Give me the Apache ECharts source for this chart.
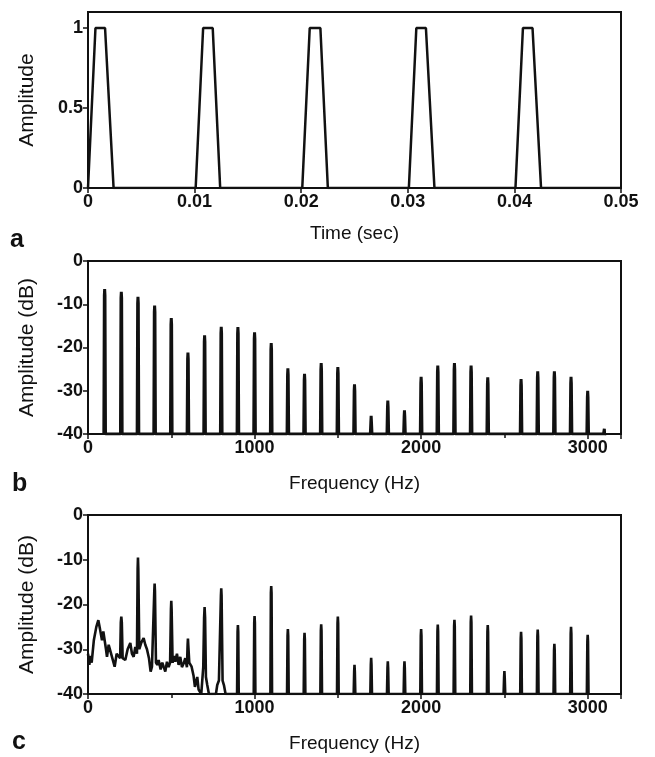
<!DOCTYPE html>
<html>
<head>
<meta charset="utf-8">
<script src="https://cdn.jsdelivr.net/npm/echarts@6/dist/echarts.min.js"></script>
<style>
  html, body { margin: 0; padding: 0; background: #fff; }
  #chart { width: 655px; height: 757px; }
</style>
</head>
<body>
<div id="chart"></div>
<script type="text/javascript">
    // panel a : pulse train (time in sec, amplitude)
    var pulseT = [0, 0.0007, 0.0016, 0.0024,
                  0.0101, 0.0108, 0.0117, 0.0124,
                  0.0201, 0.0208, 0.0218, 0.0225,
                  0.0301, 0.0308, 0.0317, 0.0325,
                  0.0401, 0.0408, 0.0417, 0.0425, 0.05];
    var pulseA = [0, 1, 1, 0,
                  0, 1, 1, 0,
                  0, 1, 1, 0,
                  0, 1, 1, 0,
                  0, 1, 1, 0, 0];

    // panel b : harmonic line spectrum (Hz, dB)
    var freqsB = [100, 200, 300, 400, 500, 600, 700, 800, 900, 1000, 1100, 1200, 1300, 1400, 1500, 1600,
                  1700, 1800, 1900, 2000, 2100, 2200, 2300, 2400, 2600, 2700, 2800, 2900, 3000, 3100];
    var peaksB = [-6.5, -7.1, -8.3, -10.3, -13.2, -21.2, -17.2, -15.2, -15.3, -16.5, -19, -24.8, -26.1, -23.6, -24.5, -28.5,
                  -35.8, -32.3, -34.5, -26.8, -24.2, -23.6, -24.2, -26.9, -27.3, -25.5, -25.5, -26.8, -30, -38.8];

    // panel c : noisy low part of spectrum (Hz, dB), then harmonics
    var floorC = [
        [0, -31], [8, -33.5], [14, -31.5], [22, -33], [35, -28], [50, -25], [62, -23.5], [72, -25.5],
        [84, -28], [92, -26], [100, -25.7], [108, -30], [114, -31.7], [124, -29], [134, -29.4], [146, -32],
        [160, -33.9], [172, -31], [184, -30.9], [193, -32], [197, -24], [200, -22.7], [203, -24], [208, -32],
        [224, -32.4], [238, -30], [254, -28.6], [264, -31], [274, -31.7], [284, -29.5], [294, -31], [298, -12],
        [300, -9.5], [302, -12], [308, -30], [320, -28.5], [334, -27.5], [344, -29], [354, -30], [366, -32],
        [376, -35], [384, -33.9], [393, -34], [398, -17], [400, -15.3], [402, -17], [408, -33], [416, -33.5],
        [424, -32.4], [436, -34.5], [446, -33], [454, -33.9], [464, -35], [474, -32.8], [484, -34], [493, -33],
        [498, -21], [500, -19.2], [502, -21], [508, -33], [516, -31.5], [524, -32.8], [534, -31], [544, -33.5],
        [554, -31.7], [564, -34], [574, -33.2], [584, -32], [594, -34], [598, -29], [600, -27.6], [602, -29],
        [608, -33], [622, -33.9], [634, -36], [642, -38.4], [656, -36.2], [664, -39], [672, -39], [680, -40],
        [692, -34], [697, -23], [700, -20.6], [703, -23], [708, -36.2], [716, -38], [726, -40], [768, -40],
        [776, -38], [786, -37], [795, -37], [798, -18], [800, -16.4], [802, -18], [808, -37], [816, -38],
        [826, -40], [860, -40]
    ];
    var freqsC = [900, 1000, 1100, 1200, 1300, 1400, 1500, 1600, 1700, 1800, 1900, 2000, 2100,
                  2200, 2300, 2400, 2500, 2600, 2700, 2800, 2900, 3000];
    var peaksC = [-24.6, -22.6, -15.9, -25.5, -26.3, -24.4, -22.7, -33.5, -31.9, -32.7, -32.7, -25.5, -24.5,
                  -23.4, -22.5, -24.6, -34.9, -26.1, -25.6, -28.8, -25, -26.8];

    var ink = '#111';
    var font = 'Liberation Sans, Arial, Helvetica, sans-serif';

    // each harmonic is drawn as a narrow peak rising off the -40 dB floor
    function spikes(freqs, peaks) {
        var out = [];
        for (var i = 0; i < freqs.length; i++) {
            out.push([freqs[i] - 5, -40]);
            out.push([freqs[i] - 2, peaks[i] - 1.5]);
            out.push([freqs[i], peaks[i]]);
            out.push([freqs[i] + 2, peaks[i] - 1.5]);
            out.push([freqs[i] + 5, -40]);
        }
        return out;
    }

    var pulseData = [];
    for (var i = 0; i < pulseT.length; i++) {
        pulseData.push([pulseT[i], pulseA[i]]);
    }
    var specB = spikes(freqsB, peaksB);
    var specC = floorC.concat(spikes(freqsC, peaksC));

    function axisBase(extra) {
        var o = {
            type: 'value',
            axisLine: { show: true, onZero: false, lineStyle: { color: ink, width: 2 } },
            axisTick: { show: true, inside: false, length: 5, lineStyle: { color: ink, width: 1.5 } },
            splitLine: { show: false },
            axisLabel: { color: ink, fontSize: 18, fontWeight: 'bold', fontFamily: font, margin: 5 },
            nameLocation: 'middle',
            nameTextStyle: { color: ink, fontSize: 19, fontFamily: font }
        };
        for (var k in extra) {
            if (k === 'axisLabel') {
                for (var j in extra.axisLabel) o.axisLabel[j] = extra.axisLabel[j];
            } else if (k === 'nameTextStyle') {
                for (var j2 in extra.nameTextStyle) o.nameTextStyle[j2] = extra.nameTextStyle[j2];
            } else {
                o[k] = extra[k];
            }
        }
        return o;
    }

    var yName = { fontSize: 21 };
    var freqTicks = { show: true, splitNumber: 2, length: 4, lineStyle: { color: ink, width: 1.5 } };
    var plain = function (v) { return String(v); };

    var option = {
        animation: false,
        backgroundColor: '#fff',
        grid: [
            { left: 88, right: 34, top: 12, height: 176, show: true, borderColor: ink, borderWidth: 2 },
            { left: 88, right: 34, top: 261, height: 173, show: true, borderColor: ink, borderWidth: 2 },
            { left: 88, right: 34, top: 515, height: 179, show: true, borderColor: ink, borderWidth: 2 }
        ],
        xAxis: [
            axisBase({ gridIndex: 0, min: 0, max: 0.05, interval: 0.01, name: 'Time (sec)', nameGap: 36 }),
            axisBase({ gridIndex: 1, min: 0, max: 3200, interval: 1000, name: 'Frequency (Hz)', nameGap: 40,
                       minorTick: freqTicks, axisLabel: { showMaxLabel: false, formatter: plain } }),
            axisBase({ gridIndex: 2, min: 0, max: 3200, interval: 1000, name: 'Frequency (Hz)', nameGap: 40,
                       minorTick: freqTicks, axisLabel: { showMaxLabel: false, formatter: plain } })
        ],
        yAxis: [
            axisBase({ gridIndex: 0, min: 0, max: 1.1, interval: 0.5, name: 'Amplitude', nameGap: 50,
                       nameTextStyle: yName, axisLabel: { showMaxLabel: false } }),
            axisBase({ gridIndex: 1, min: -40, max: 0, interval: 10, name: 'Amplitude (dB)', nameGap: 50,
                       nameTextStyle: yName }),
            axisBase({ gridIndex: 2, min: -40, max: 0, interval: 10, name: 'Amplitude (dB)', nameGap: 50,
                       nameTextStyle: yName })
        ],
        series: [
            { type: 'line', xAxisIndex: 0, yAxisIndex: 0, data: pulseData, symbol: 'none',
              lineStyle: { color: ink, width: 2.5 } },
            { type: 'line', xAxisIndex: 1, yAxisIndex: 1, data: specB, symbol: 'none',
              lineStyle: { color: ink, width: 3 } },
            { type: 'line', xAxisIndex: 2, yAxisIndex: 2, data: specC, symbol: 'none',
              lineStyle: { color: ink, width: 2.6 } }
        ],
        graphic: [
            { type: 'text', left: 10, top: 228, style: { text: 'a', fill: ink, font: 'bold 25px ' + font } },
            { type: 'text', left: 12, top: 472, style: { text: 'b', fill: ink, font: 'bold 25px ' + font } },
            { type: 'text', left: 12, top: 730, style: { text: 'c', fill: ink, font: 'bold 25px ' + font } }
        ]
    };

    var myChart = echarts.init(document.getElementById('chart'));
    myChart.setOption(option);
</script>
</body>
</html>
